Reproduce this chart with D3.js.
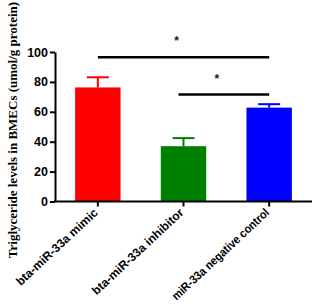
<!DOCTYPE html>
<html>
<head>
<meta charset="utf-8">
<script src="https://cdn.jsdelivr.net/npm/d3@7"></script>
<style>
body { margin: 0; background: #fff; }
svg { display: block; }
.tick text { font-family: "Liberation Sans", Arial, sans-serif; font-weight: bold; }
</style>
</head>
<body>
<script>
var categories = ['bta-miR-33a mimic', 'bta-miR-33a inhibitor', 'miR-33a negative control'];
var means = [76.3, 37, 62.8];
var errors = [6.8, 5.4, 2.3];
var colors = ['#ff0000', '#008000', '#0000ff'];
var yTicks = [0, 20, 40, 60, 80, 100];
// significance brackets: from category, to category, y level
var sigFrom = [0, 1];
var sigTo = [2, 2];
var sigLevel = [96.5, 71.5];

var width = 320, height = 306;
var mLeft = 55, mRight = 312, mTop = 52, mBottom = 201.5;

var svg = d3.select('body').append('svg')
	.attr('width', width)
	.attr('height', height);

var x = d3.scaleBand()
	.domain(categories)
	.range([mLeft, mRight])
	.paddingInner(0.47)
	.paddingOuter(0.235);

var y = d3.scaleLinear()
	.domain([0, 100])
	.range([mBottom, mTop]);

// bars
svg.selectAll('.bar')
	.data(categories)
	.enter().append('rect')
	.attr('x', function(d) { return x(d); })
	.attr('y', function(d, i) { return y(means[i]); })
	.attr('width', x.bandwidth())
	.attr('height', function(d, i) { return y(0) - y(means[i]); })
	.attr('fill', function(d, i) { return colors[i]; });

// error bars (upper only)
var eb = svg.selectAll('.err')
	.data(categories)
	.enter().append('g')
	.attr('stroke', function(d, i) { return colors[i]; })
	.attr('stroke-width', 2);
eb.append('line')
	.attr('x1', function(d) { return x(d) + x.bandwidth() / 2; })
	.attr('x2', function(d) { return x(d) + x.bandwidth() / 2; })
	.attr('y1', function(d, i) { return y(means[i]); })
	.attr('y2', function(d, i) { return y(means[i] + errors[i]); });
eb.append('line')
	.attr('x1', function(d) { return x(d) + x.bandwidth() / 2 - 11; })
	.attr('x2', function(d) { return x(d) + x.bandwidth() / 2 + 11; })
	.attr('y1', function(d, i) { return y(means[i] + errors[i]); })
	.attr('y2', function(d, i) { return y(means[i] + errors[i]); });

// y axis
var yAxis = svg.append('g')
	.attr('transform', 'translate(' + mLeft + ',0)')
	.call(d3.axisLeft(y).tickValues(yTicks).tickSize(5).tickSizeOuter(0));
yAxis.select('.domain').attr('stroke-width', 2);
yAxis.selectAll('.tick line').attr('stroke-width', 2);
yAxis.selectAll('.tick text').attr('font-size', 12.5).attr('fill', '#000').attr('x', -7);

// x axis
var xAxis = svg.append('g')
	.attr('transform', 'translate(0,' + mBottom + ')')
	.call(d3.axisBottom(x).tickSize(5).tickSizeOuter(0));
xAxis.select('.domain').attr('stroke-width', 2).attr('d', 'M' + (mLeft - 1) + ',0H' + mRight);
xAxis.selectAll('.tick line').attr('stroke-width', 2);
xAxis.selectAll('.tick text')
	.attr('font-size', 12)
	.attr('fill', '#000')
	.attr('text-anchor', 'end')
	.attr('dy', '0.35em')
	.attr('transform', 'translate(-2,9) rotate(-43)')
	.attr('x', 0)
	.attr('y', 0)
	.each(function() {
		// squeeze long labels so they stay inside the picture
		if (this.getComputedTextLength() > 128) {
			d3.select(this).attr('textLength', 128).attr('lengthAdjust', 'spacingAndGlyphs');
		}
	});

// y label
svg.append('text')
	.attr('transform', 'translate(17,' + 130 + ') rotate(-90)')
	.attr('text-anchor', 'middle')
	.attr('font-family', '"Liberation Serif", "Times New Roman", serif')
	.attr('font-weight', 'bold')
	.attr('font-size', 13)
	.text('Triglyceride levels in BMECs (umol/g protein)');

// significance lines
for (var i = 0; i < sigFrom.length; i++) {
	var x1 = x(categories[sigFrom[i]]) + x.bandwidth() / 2 - (i === 0 ? 0 : 5);
	var x2 = x(categories[sigTo[i]]) + x.bandwidth() / 2;
	svg.append('line')
		.attr('x1', x1)
		.attr('x2', x2)
		.attr('y1', y(sigLevel[i]))
		.attr('y2', y(sigLevel[i]))
		.attr('stroke', '#000')
		.attr('stroke-width', 2.5);
	svg.append('text')
		.attr('x', (x1 + x2) / 2 - 7)
		.attr('y', y(sigLevel[i]) - 12)
		.attr('text-anchor', 'middle')
		.attr('font-family', '"Liberation Sans", Arial, sans-serif')
		.attr('font-weight', 'bold')
		.attr('font-size', 12)
		.attr('fill', '#222')
		.text('*');
}
</script>
</body>
</html>
